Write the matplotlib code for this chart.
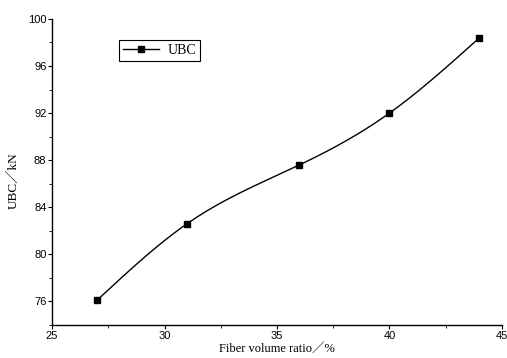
import numpy as np
import matplotlib
matplotlib.use("Agg")
import matplotlib.pyplot as plt
from matplotlib.ticker import MultipleLocator

fiber_ratio = [27, 31, 36, 40, 44]
ubc = [76.1, 82.6, 87.6, 92.0, 98.4]
x_ticks = [25, 30, 35, 40, 45]
y_ticks = [76, 80, 84, 88, 92, 96, 100]


def natural_spline(x, y, xs):
    x = np.asarray(x, float); y = np.asarray(y, float)
    n = len(x)
    h = np.diff(x)
    A = np.zeros((n, n)); b = np.zeros(n)
    A[0, 0] = A[-1, -1] = 1
    for i in range(1, n - 1):
        A[i, i - 1] = h[i - 1]
        A[i, i] = 2 * (h[i - 1] + h[i])
        A[i, i + 1] = h[i]
        b[i] = 6 * ((y[i + 1] - y[i]) / h[i] - (y[i] - y[i - 1]) / h[i - 1])
    M = np.linalg.solve(A, b)
    out = np.empty_like(xs)
    for k, t in enumerate(xs):
        i = min(max(np.searchsorted(x, t) - 1, 0), n - 2)
        a = x[i + 1] - t; c = t - x[i]
        out[k] = (M[i] * a**3 / (6 * h[i]) + M[i + 1] * c**3 / (6 * h[i])
                  + (y[i] / h[i] - M[i] * h[i] / 6) * a
                  + (y[i + 1] / h[i] - M[i + 1] * h[i] / 6) * c)
    return out


serif = ['Liberation Serif', 'Noto Sans CJK SC']

fig = plt.figure(figsize=(5.07, 3.58), dpi=100)
ax = fig.add_axes([0.1026, 0.0922, 0.8875, 0.855])

xs = np.linspace(fiber_ratio[0], fiber_ratio[-1], 300)
ax.plot(xs, natural_spline(fiber_ratio, ubc, xs), color='black', lw=1.0)
ax.plot(fiber_ratio, ubc, linestyle='none', marker='s', ms=5, color='black')
ax.plot([], [], color='black', lw=1.0, marker='s', ms=5, label='UBC')

ax.set_xlim(25, 45)
ax.set_ylim(74, 100)
ax.set_xticks(x_ticks)
ax.set_yticks(y_ticks)
ax.xaxis.set_minor_locator(MultipleLocator(2.5))
ax.yaxis.set_minor_locator(MultipleLocator(2))
ax.tick_params(which='both', direction='out', labelsize=8, pad=1)
ax.tick_params(which='major', length=3, width=0.8)
ax.tick_params(which='minor', length=2, width=0.6)
for lab in ax.get_xticklabels() + ax.get_yticklabels():
    lab.set_fontfamily('Liberation Sans')
ax.spines['top'].set_visible(False)
ax.spines['right'].set_visible(False)
ax.spines['left'].set_linewidth(1.0)
ax.spines['bottom'].set_linewidth(1.0)

ax.set_xlabel('Fiber volume ratio\uff0f%', fontfamily=serif, fontsize=9)
ax.xaxis.set_label_coords(0.5, -0.058)
ax.set_ylabel('UBC\uff0fkN', fontfamily=serif, fontsize=9.5)
ax.yaxis.set_label_coords(-0.072, 0.47)

leg = ax.legend(loc='upper left', bbox_to_anchor=(0.149, 0.931), borderaxespad=0,
                frameon=True, fancybox=False, edgecolor='black', framealpha=1,
                prop={'family': 'Liberation Serif', 'size': 10},
                handlelength=2.6, borderpad=0.3, handletextpad=0.6)
leg.get_frame().set_linewidth(0.8)

fig.savefig('out.png', dpi=100)
